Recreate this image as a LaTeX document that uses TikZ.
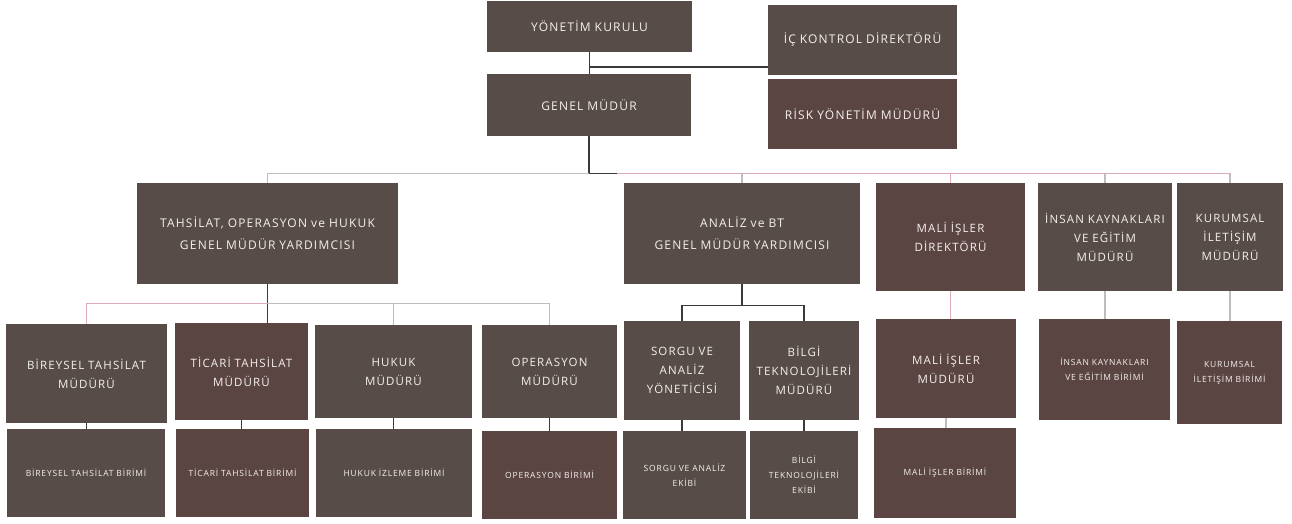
\documentclass[tikz,border=0pt]{standalone}
\usepackage{fontspec}
\setmainfont{Open Sans}
\usetikzlibrary{calc}
\definecolor{boxc}{HTML}{574C48}
\definecolor{boxr}{HTML}{5B4543}
\definecolor{linedark}{HTML}{3A3A3A}
\definecolor{linepink}{HTML}{DDAAB5}
\definecolor{linegrey}{HTML}{BDBDBD}
\definecolor{txt}{HTML}{F4F0EE}
\tikzset{
  box/.style={draw=none, fill=boxc, text=txt, inner sep=0pt, align=center},
  redbox/.style={box, fill=boxr},
  bigtxt/.style={font=\fontsize{12}{22}\selectfont\addfontfeatures{LetterSpace=10}},
  midtxt/.style={font=\fontsize{11.5}{19}\selectfont\addfontfeatures{LetterSpace=10}},
  smalltxt/.style={font=\fontsize{8.5}{15}\selectfont\addfontfeatures{LetterSpace=10}},
  dk/.style={draw=linedark, line width=1.3pt},
  pk/.style={draw=linepink, line width=1.2pt},
  gr/.style={draw=linegrey, line width=1.2pt}
}
\newcommand\obox[6]{\node[#1, text width=#4pt, minimum height=#5pt] (#2) at (#3) {#6};}
\begin{document}
\begin{tikzpicture}[x=1pt,y=-1pt]
\useasboundingbox (0,0) rectangle (1292,523);
% top
\obox{box,bigtxt}{yk}{589.5,26.5}{205}{51}{YÖNETİM KURULU}
\obox{box,bigtxt}{ic}{862.5,40}{189}{70}{İÇ KONTROL DİREKTÖRÜ}
\obox{box,bigtxt}{gm}{589,105}{204}{62}{GENEL MÜDÜR}
\obox{redbox,bigtxt}{risk}{862.5,114}{189}{70}{RİSK YÖNETİM MÜDÜRÜ}
% second level
\obox{box,bigtxt}{tah}{267.5,233.5}{261}{101}{TAHSİLAT, OPERASYON ve HUKUK\\GENEL MÜDÜR YARDIMCISI}
\obox{box,bigtxt}{ana}{742,233.5}{236}{101}{ANALİZ ve BT\\GENEL MÜDÜR YARDIMCISI}
\obox{redbox,midtxt}{mal}{950.5,237}{149}{108}{MALİ İŞLER\\DİREKTÖRÜ}
\obox{box,midtxt}{ins}{1105,237}{134}{108}{İNSAN KAYNAKLARI\\VE EĞİTİM\\MÜDÜRÜ}
\obox{box,midtxt}{kur}{1230,237}{106}{108}{KURUMSAL\\İLETİŞİM\\MÜDÜRÜ}
% third level
\obox{box,midtxt}{bir}{86.5,373.5}{161}{99}{BİREYSEL TAHSİLAT\\MÜDÜRÜ}
\obox{redbox,midtxt}{tic}{241.5,371.5}{133}{97}{TİCARİ TAHSİLAT\\MÜDÜRÜ}
\obox{box,midtxt}{huk}{393.5,371.5}{157}{93}{HUKUK\\MÜDÜRÜ}
\obox{box,midtxt}{ope}{549.5,371.5}{135}{93}{OPERASYON\\MÜDÜRÜ}
\obox{box,midtxt}{sor}{682,370.5}{116}{99}{SORGU VE\\ANALİZ\\YÖNETİCİSİ}
\obox{box,midtxt}{bil}{804,370.5}{110}{99}{BİLGİ\\TEKNOLOJİLERİ\\MÜDÜRÜ}
\obox{redbox,midtxt}{malm}{946,368.5}{140}{99}{MALİ İŞLER\\MÜDÜRÜ}
\obox{redbox,smalltxt}{insb}{1104.5,369.5}{131}{101}{İNSAN KAYNAKLARI\\VE EĞİTİM BİRİMİ}
\obox{redbox,smalltxt}{kurb}{1229.5,372.5}{105}{103}{KURUMSAL\\İLETİŞİM BİRİMİ}
% bottom level
\obox{box,smalltxt}{birb}{86,473}{158}{88}{BİREYSEL TAHSİLAT BİRİMİ}
\obox{redbox,smalltxt}{ticb}{242.5,473}{133}{88}{TİCARİ TAHSİLAT BİRİMİ}
\obox{box,smalltxt}{hukb}{394,473}{156}{88}{HUKUK İZLEME BİRİMİ}
\obox{redbox,smalltxt}{opeb}{549.5,475}{135}{88}{OPERASYON BİRİMİ}
\obox{box,smalltxt}{sorb}{684.5,475}{123}{88}{SORGU VE ANALİZ\\EKİBİ}
\obox{box,smalltxt}{bilb}{804,475}{108}{88}{BİLGİ\\TEKNOLOJİLERİ\\EKİBİ}
\obox{redbox,smalltxt}{malb}{945,473}{142}{90}{MALİ İŞLER BİRİMİ}
% connectors top
\draw[dk] (yk.south) -- (yk.south |- gm.north);
\coordinate (j1) at ($(yk.south)!0.68!(yk.south |- gm.north)$);
\draw[dk] (j1) -- (j1 -| ic.west);
\coordinate (bus) at ($(gm.south)+(0,37)$);
\draw[dk] (gm.south) -- (bus);
\draw[gr] (bus -| tah.north) -- (bus);
\draw[pk] (bus) -- (bus -| kur.north);
\draw[dk] (bus) -- ($(bus)+(28,0)$);
\draw[gr] (bus -| tah.north) -- (tah.north);
\draw[gr] (bus -| ana.north) -- (ana.north);
\draw[pk] (bus -| mal.north) -- (mal.north);
\draw[gr] (bus -| ins.north) -- (ins.north);
\draw[gr] (bus -| kur.north) -- (kur.north);
% tahsilat group
\coordinate (b2) at ($(tah.south)+(0,19)$);
\draw[dk] (tah.south) -- (tah.south |- tic.north);
\draw[pk] (b2 -| bir.north) -- (b2);
\draw[gr] (b2) -- (b2 -| ope.north);
\draw[pk] (b2 -| bir.north) -- (bir.north);
\draw[gr] (b2 -| huk.north) -- (huk.north);
\draw[gr] (b2 -| ope.north) -- (ope.north);
% analiz group
\coordinate (b3) at ($(ana.south)+(0,21)$);
\draw[dk] (ana.south) -- (b3);
\draw[dk] (b3 -| sor.north) -- (b3 -| bil.north);
\draw[dk] (b3 -| sor.north) -- (sor.north);
\draw[dk] (b3 -| bil.north) -- (bil.north);
% right groups
\draw[pk] (mal.south) -- (mal.south |- malm.north);
\draw[gr] (ins.south) -- (ins.south |- insb.north);
\draw[gr] (kur.south) -- (kur.south |- kurb.north);
% stubs to bottom
\draw[dk] (bir.south) -- (bir.south |- birb.north);
\draw[dk] (tic.south) -- (tic.south |- ticb.north);
\draw[dk] (huk.south) -- (huk.south |- hukb.north);
\draw[dk] (ope.south) -- (ope.south |- opeb.north);
\draw[dk] (sor.south) -- (sor.south |- sorb.north);
\draw[dk] (bil.south) -- (bil.south |- bilb.north);
\draw[gr] (malm.south) -- (malm.south |- malb.north);
\end{tikzpicture}
\end{document}
